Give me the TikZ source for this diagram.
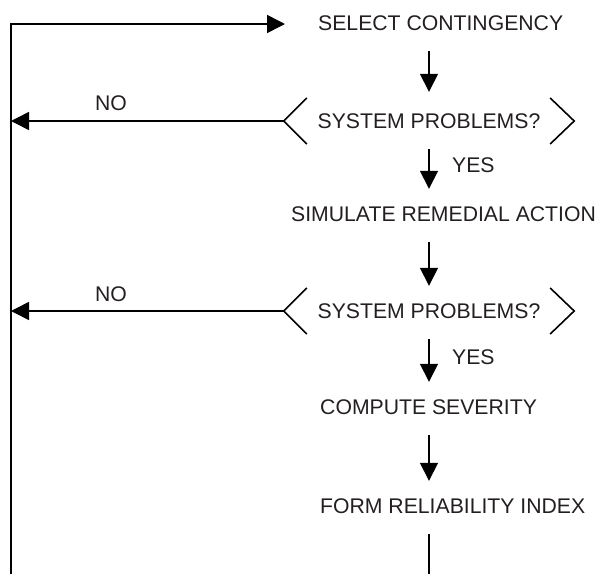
\documentclass[tikz,border=0pt]{standalone}
\usepackage{fontspec}
\setmainfont{Liberation Sans}
\usetikzlibrary{arrows.meta}
\definecolor{ink}{HTML}{231F20}
\begin{document}
\begin{tikzpicture}[x=1pt,y=-1pt,
  every node/.style={text=ink,font=\fontsize{21.2}{25}\selectfont},
  stepbox/.style={inner sep=0pt,minimum height=56pt,anchor=west},
  decision/.style={inner sep=0pt,minimum height=56pt,minimum width=290pt},
  line/.style={draw=black,line width=1.6pt},
  arr/.style={line,-{Triangle[length=18pt,width=18pt]}},
  lbl/.style={inner sep=0pt}]
\useasboundingbox (0,0) rectangle (598,574);
\coordinate (col) at (429,0);
\node[stepbox] (select) at (318,23) {SELECT CONTINGENCY};
\node[decision] (d1) at (429,121) {SYSTEM PROBLEMS?};
\node[stepbox] (sim) at (291,214) {SIMULATE REMEDIAL ACTION};
\node[decision] (d2) at (429,311) {SYSTEM PROBLEMS?};
\node[stepbox] (comp) at (320,407) {COMPUTE SEVERITY};
\node[stepbox] (form) at (320,506) {FORM RELIABILITY INDEX};
\coordinate (topL) at (11,24);
\coordinate (botL) at (11,574);
\coordinate (topTip) at (285,24);
\coordinate (botC) at (429,574);
\node[lbl] (no1) at (111,103) {NO};
\node[lbl] (no2) at (111,294) {NO};
\node[lbl,anchor=west] (yes1) at (452,165) {YES};
\node[lbl,anchor=west] (yes2) at (452,357) {YES};
% brackets
\foreach \d in {d1,d2}{
  \draw[line] (\d.west) ++(23,-23) -- (\d.west) -- ++(23,23);
  \draw[line] (\d.east) ++(-24,-23) -- (\d.east) -- ++(-24,23);
}
% loop line
\draw[arr] (botL) -- (topL) -- (topTip);
\draw[arr] (d1.west) -- (d1.west -| topL);
\draw[arr] (d2.west) -- (d2.west -| topL);
% main flow
\draw[arr,shorten >=1pt] (select.south -| col) -- (d1.north);
\draw[arr,shorten >=-3pt] (d1.south) -- (sim.north -| col);
\draw[arr,shorten >=-3pt] (sim.south -| col) -- (d2.north);
\draw[arr,shorten >=-3pt] (d2.south) -- (comp.north -| col);
\draw[arr,shorten >=-3pt] (comp.south -| col) -- (form.north -| col);
\draw[line] (form.south -| col) -- (botC);
\end{tikzpicture}
\end{document}
